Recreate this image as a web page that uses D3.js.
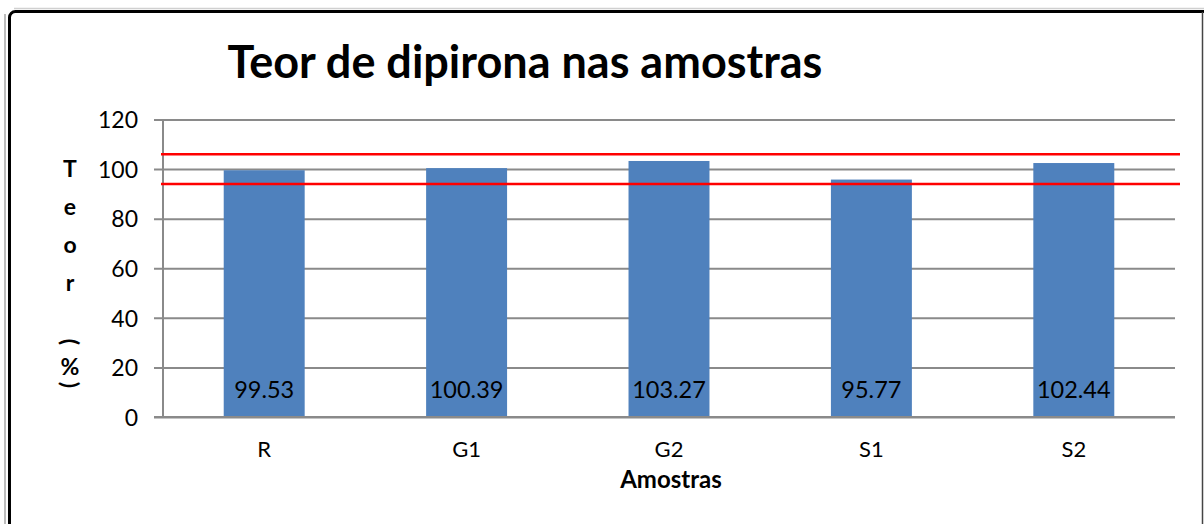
<!DOCTYPE html>
<html>
<head>
<meta charset="utf-8">
<script src="https://cdn.jsdelivr.net/npm/d3@7"></script>
<style>
  body { margin: 0; background: #fff; }
  text { font-family: Lato, "Liberation Sans", sans-serif; fill: #000; }
</style>
</head>
<body>
<div id="chart"></div>
<script>
// data
var amostras = ["R", "G1", "G2", "S1", "S2"];
var teor = [99.53, 100.39, 103.27, 95.77, 102.44];
var yTicks = [0, 20, 40, 60, 80, 100, 120];
var limites = [94, 106];

var W = 1204, H = 524;
var margin = {top: 119.5, right: 29, bottom: 107, left: 163},
    width = W - margin.left - margin.right,
    height = H - margin.top - margin.bottom;

var svg = d3.select("#chart").append("svg")
    .attr("width", W)
    .attr("height", H);

// frame
svg.append("line").attr("x1", 5).attr("y1", 14).attr("x2", 5).attr("y2", H)
    .style("stroke", "#bdbdbd").style("stroke-width", 2);
svg.append("line").attr("x1", 14).attr("y1", 8.5).attr("x2", W).attr("y2", 8.5)
    .style("stroke", "#d0d0d0").style("stroke-width", 1.5);
svg.append("rect")
    .attr("x", 9.5).attr("y", 11.5)
    .attr("width", W).attr("height", H)
    .attr("rx", 6)
    .style("fill", "none").style("stroke", "#000").style("stroke-width", 3);
svg.append("line").attr("x1", 1202.5).attr("y1", 12).attr("x2", 1202.5).attr("y2", H)
    .style("stroke", "#444").style("stroke-width", 1.5);

var g = svg.append("g")
    .attr("transform", "translate(" + margin.left + "," + margin.top + ")");

var x = d3.scaleBand()
    .domain(amostras)
    .range([0, width])
    .paddingInner(0.6)
    .paddingOuter(0.3);

var y = d3.scaleLinear()
    .domain([0, 120])
    .range([height, 0]);

// gridlines + ticks
var yAxis = d3.axisLeft(y)
    .tickValues(yTicks)
    .tickSize(-(width + 9))
    .tickPadding(16)
    .tickFormat(d3.format("d"));

var ya = g.append("g")
    .attr("transform", "translate(-9,0)")
    .call(yAxis);
ya.select(".domain").remove();
ya.selectAll(".tick line")
    .style("stroke", "#8a8a8a").style("stroke-width", 2);
ya.selectAll(".tick text")
    .style("font-size", "23px")
    .attr("dy", "0.36em");

// y axis line
g.append("line")
    .attr("x1", 0).attr("x2", 0)
    .attr("y1", 0).attr("y2", height)
    .style("stroke", "#8a8a8a").style("stroke-width", 2);

// bars
g.selectAll(".bar")
    .data(teor)
  .enter().append("rect")
    .attr("class", "bar")
    .attr("x", function(d, i) { return x(amostras[i]); })
    .attr("y", function(d) { return y(d); })
    .attr("width", x.bandwidth())
    .attr("height", function(d) { return height - y(d); })
    .style("fill", "#4f81bd");

// value labels
g.selectAll(".val")
    .data(teor)
  .enter().append("text")
    .attr("class", "val")
    .attr("x", function(d, i) { return x(amostras[i]) + x.bandwidth() / 2; })
    .attr("y", height - 19)
    .attr("text-anchor", "middle")
    .style("font-size", "23.5px")
    .text(function(d) { return d3.format(".2f")(d); });

// limit lines
g.selectAll(".lim")
    .data(limites)
  .enter().append("line")
    .attr("class", "lim")
    .attr("x1", -2).attr("x2", width + 5)
    .attr("y1", function(d) { return y(d); })
    .attr("y2", function(d) { return y(d); })
    .style("stroke", "#ff0000").style("stroke-width", 2.5);

// x labels
var xAxis = d3.axisBottom(x).tickSize(0).tickPadding(24);
var xa = g.append("g")
    .attr("transform", "translate(0," + height + ")")
    .call(xAxis);
xa.select(".domain").remove();
xa.selectAll(".tick text").style("font-size", "22px");

// bottom axis line
g.append("line")
    .attr("x1", -9).attr("x2", width)
    .attr("y1", height).attr("y2", height)
    .style("stroke", "#8a8a8a").style("stroke-width", 2);

// axis titles
g.append("text")
    .attr("x", width / 2 + 2)
    .attr("y", height + 71)
    .attr("text-anchor", "middle")
    .style("font-size", "24px")
    .style("font-weight", "bold")
    .text("Amostras");

// stacked y title: Teor (%)
var yLetters = ["T", "e", "o", "r", "(", "%", ")"];
var yPos = [169, 207, 245, 283, 342, 367, 385];
svg.selectAll(".ylab")
    .data(yLetters)
  .enter().append("text")
    .attr("class", "ylab")
    .attr("text-anchor", "middle")
    .attr("dy", "0.36em")
    .attr("transform", function(d, i) {
      var r = (d == "(" || d == ")") ? " rotate(90)" : "";
      return "translate(70," + yPos[i] + ")" + r;
    })
    .style("font-size", "23px")
    .style("font-weight", "bold")
    .text(function(d) { return d; });

// title
svg.append("text")
    .attr("x", 525)
    .attr("y", 78)
    .attr("text-anchor", "middle")
    .style("font-size", "45px")
    .style("font-weight", "bold")
    .text("Teor de dipirona nas amostras");
</script>
</body>
</html>
